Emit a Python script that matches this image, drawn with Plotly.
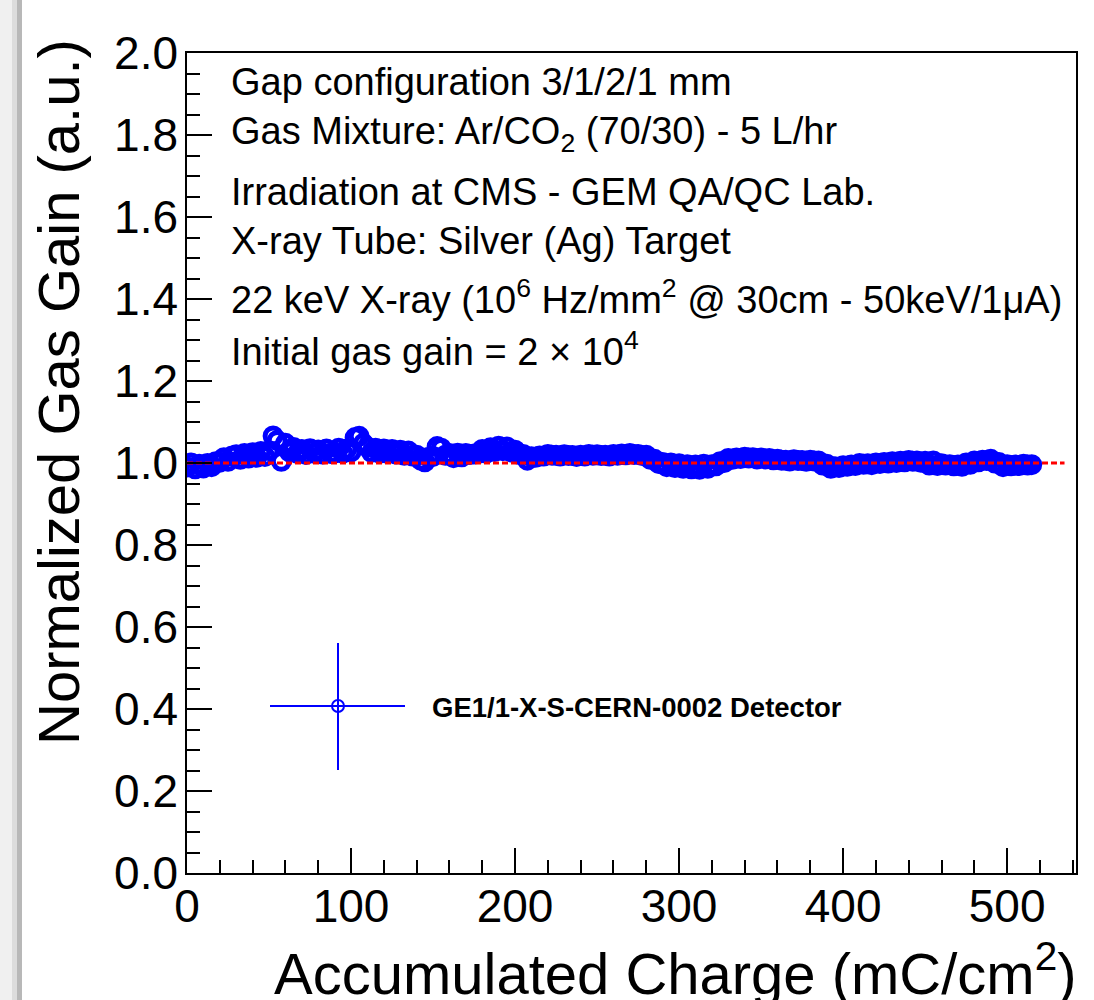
import plotly.graph_objects as go

# ---------------- data ----------------
charge = [
    0, 2.5, 5, 7.5, 10, 12.5, 15, 17.5,
    20, 22.5, 25, 27.5, 30, 32.5, 35, 37.5,
    40, 42.5, 45, 47.5, 50, 52.5, 55, 57.5,
    60, 62.5, 65, 67.5, 70, 72.5, 75, 77.5,
    80, 82.5, 85, 87.5, 90, 92.5, 95, 97.5,
    100, 102.5, 105, 107.5, 110, 112.5, 115, 117.5,
    120, 122.5, 125, 127.5, 130, 132.5, 135, 137.5,
    140, 142.5, 145, 147.5, 150, 152.5, 155, 157.5,
    160, 162.5, 165, 167.5, 170, 172.5, 175, 177.5,
    180, 182.5, 185, 187.5, 190, 192.5, 195, 197.5,
    200, 202.5, 205, 207.5, 210, 212.5, 215, 217.5,
    220, 222.5, 225, 227.5, 230, 232.5, 235, 237.5,
    240, 242.5, 245, 247.5, 250, 252.5, 255, 257.5,
    260, 262.5, 265, 267.5, 270, 272.5, 275, 277.5,
    280, 282.5, 285, 287.5, 290, 292.5, 295, 297.5,
    300, 302.5, 305, 307.5, 310, 312.5, 315, 317.5,
    320, 322.5, 325, 327.5, 330, 332.5, 335, 337.5,
    340, 342.5, 345, 347.5, 350, 352.5, 355, 357.5,
    360, 362.5, 365, 367.5, 370, 372.5, 375, 377.5,
    380, 382.5, 385, 387.5, 390, 392.5, 395, 397.5,
    400, 402.5, 405, 407.5, 410, 412.5, 415, 417.5,
    420, 422.5, 425, 427.5, 430, 432.5, 435, 437.5,
    440, 442.5, 445, 447.5, 450, 452.5, 455, 457.5,
    460, 462.5, 465, 467.5, 470, 472.5, 475, 477.5,
    480, 482.5, 485, 487.5, 490, 492.5, 495, 497.5,
    500, 502.5, 505, 507.5, 510, 512.5, 515,
]

norm_gain = [
    0.990, 1.000, 0.986, 0.997, 0.988, 0.999, 0.991, 1.003,
    1.002, 1.013, 1.004, 1.017, 1.020, 1.009, 1.023, 1.012,
    1.025, 1.014, 1.028, 1.016, 1.030, 1.066, 1.055, 1.004,
    1.048, 1.027, 1.038, 1.023, 1.033, 1.021, 1.035, 1.024,
    1.032, 1.022, 1.034, 1.023, 1.025, 1.036, 1.024, 1.034,
    1.027, 1.062, 1.065, 1.048, 1.039, 1.026, 1.036, 1.024,
    1.034, 1.023, 1.033, 1.022, 1.031, 1.019, 1.029, 1.017,
    1.019, 1.007, 1.003, 1.014, 1.016, 1.040, 1.036, 1.019,
    1.023, 1.013, 1.024, 1.015, 1.023, 1.021, 1.022, 1.023,
    1.033, 1.024, 1.037, 1.028, 1.041, 1.030, 1.039, 1.027,
    1.031, 1.021, 1.021, 1.007, 1.015, 1.014, 1.017, 1.017,
    1.021, 1.019, 1.019, 1.017, 1.020, 1.018, 1.018, 1.016,
    1.019, 1.017, 1.021, 1.019, 1.020, 1.018, 1.019, 1.017,
    1.021, 1.019, 1.022, 1.020, 1.023, 1.021, 1.021, 1.018,
    1.019, 1.009, 1.009, 0.999, 1.001, 0.991, 1.000, 0.989,
    0.998, 0.987, 0.996, 0.986, 0.995, 0.985, 0.997, 0.987,
    0.996, 0.993, 1.003, 1.001, 1.011, 1.009, 1.012, 1.011,
    1.014, 1.012, 1.013, 1.010, 1.012, 1.010, 1.011, 1.008,
    1.009, 1.007, 1.007, 1.005, 1.008, 1.006, 1.006, 1.004,
    1.007, 1.005, 1.005, 0.995, 0.997, 0.987, 0.991, 0.989,
    0.993, 0.992, 0.995, 0.994, 0.999, 0.997, 0.998, 0.996,
    1.000, 0.999, 1.001, 1.000, 1.003, 1.001, 1.004, 1.003,
    1.006, 1.004, 1.005, 1.002, 1.004, 0.995, 1.005, 0.994,
    0.998, 0.995, 0.996, 0.993, 0.995, 0.992, 1.000, 0.997,
    1.005, 1.003, 1.007, 1.006, 1.009, 1.000, 1.001, 0.991,
    0.996, 0.993, 0.995, 0.994, 0.997, 0.995, 0.996,
]

fit_x = [0, 535]
fit_y = [1.0, 1.0]

x_ticks = [0, 100, 200, 300, 400, 500]
y_ticks = [0.0, 0.2, 0.4, 0.6, 0.8, 1.0, 1.2, 1.4, 1.6, 1.8, 2.0]

info_lines = [
    "Gap configuration 3/1/2/1 mm",
    "Gas Mixture: Ar/CO<sub>2</sub> (70/30) - 5 L/hr",
    "Irradiation at CMS - GEM QA/QC Lab.",
    "X-ray Tube: Silver (Ag) Target",
    "22 keV X-ray (10<sup>6</sup> Hz/mm<sup>2</sup> @ 30cm - 50keV/1\u03bcA)",
    "Initial gas gain = 2 \u00d7 10<sup>4</sup>",
]
legend_label = "GE1/1-X-S-CERN-0002 Detector"

# ---------------- layout geometry (pixels) ----------------
W, H = 1094, 1000
L, R, T, B = 187, 1076, 53, 873
PW, PH = R - L, B - T


def px(xp):
    return (xp - L) / PW


def py(yp):
    return (B - yp) / PH


FONT = "Liberation Sans, Arial, Helvetica, sans-serif"
BLUE = "#0000ff"

fig = go.Figure()

fig.add_trace(go.Scatter(
    x=charge, y=norm_gain, mode="markers",
    marker=dict(symbol="circle-open", size=16, color=BLUE,
                line=dict(width=5, color=BLUE)),
    showlegend=False, hoverinfo="x+y",
))

fig.add_trace(go.Scatter(
    x=fit_x, y=fit_y, mode="lines",
    line=dict(color="#ff0000", width=3, dash="6px,3px"),
    showlegend=False,
))

axis_common = dict(
    showline=True, linecolor="black", linewidth=1.5, mirror=True,
    ticks="inside", ticklen=25, tickwidth=1.5, tickcolor="black",
    showgrid=False, zeroline=False,
    tickfont=dict(family=FONT, size=46, color="black"),
)

fig.update_xaxes(
    range=[0, 542], tickvals=x_ticks, ticktext=[str(v) for v in x_ticks],
    ticklabelstandoff=-8,
    minor=dict(dtick=20, ticks="inside", ticklen=13, tickwidth=1.5,
               tickcolor="black", showgrid=False),
    **axis_common,
)
fig.update_yaxes(
    range=[0, 2.0], tickvals=y_ticks, ticktext=[f"{v:.1f}" for v in y_ticks],
    ticklabelstandoff=-2,
    minor=dict(dtick=0.05, ticks="inside", ticklen=13, tickwidth=1.5,
               tickcolor="black", showgrid=False),
    **axis_common,
)

annotations = []
line_y = [82, 134, 192, 241, 297, 349]
for txt, yy in zip(info_lines, line_y):
    annotations.append(dict(
        text=txt, xref="paper", yref="paper", x=px(229), y=py(yy),
        xanchor="left", yanchor="middle", showarrow=False,
        font=dict(family=FONT, size=38, color="black"),
    ))

# axis titles (ROOT style: right / top aligned)
annotations.append(dict(
    text="Accumulated Charge (mC/cm<sup>2</sup>)", xref="paper", yref="paper",
    x=px(1079), y=py(970), xanchor="right", yanchor="middle", showarrow=False,
    font=dict(family=FONT, size=58, color="black"),
))
annotations.append(dict(
    text="Normalized Gas Gain (a.u.)", xref="paper", yref="paper",
    x=px(58), y=py(37), xanchor="center", yanchor="top", textangle=-90,
    showarrow=False, font=dict(family=FONT, size=58, color="black"),
))

# legend text
annotations.append(dict(
    text="<b>" + legend_label + "</b>", xref="paper", yref="paper",
    x=px(430), y=py(707), xanchor="left", yanchor="middle", showarrow=False,
    font=dict(family=FONT, size=27.5, color="black"),
))

shapes = [
    # window grey strip on the left
    dict(type="rect", xref="paper", yref="paper", x0=px(0), x1=px(12),
         y0=py(1000), y1=py(0), fillcolor="#f0f0f0", line=dict(width=0), layer="below"),
    dict(type="rect", xref="paper", yref="paper", x0=px(12), x1=px(17),
         y0=py(1000), y1=py(0), fillcolor="#dcdcdc", line=dict(width=0), layer="below"),
    dict(type="rect", xref="paper", yref="paper", x0=px(17), x1=px(22),
         y0=py(1000), y1=py(0), fillcolor="#b8b8b8", line=dict(width=0), layer="below"),
    # legend symbol (marker with error bars)
    dict(type="line", xref="paper", yref="paper", x0=px(270), x1=px(405),
         y0=py(706), y1=py(706), line=dict(color=BLUE, width=2)),
    dict(type="line", xref="paper", yref="paper", x0=px(338), x1=px(338),
         y0=py(643), y1=py(770), line=dict(color=BLUE, width=2)),
    dict(type="circle", xref="paper", yref="paper", x0=px(332), x1=px(344),
         y0=py(712), y1=py(700), line=dict(color=BLUE, width=2)),
]

fig.update_layout(
    width=W, height=H,
    margin=dict(l=L, r=W - R, t=T, b=H - B, pad=0),
    paper_bgcolor="white", plot_bgcolor="white",
    showlegend=False,
    annotations=annotations, shapes=shapes,
    font=dict(family=FONT, color="black"),
)

fig.write_html("out.html")
